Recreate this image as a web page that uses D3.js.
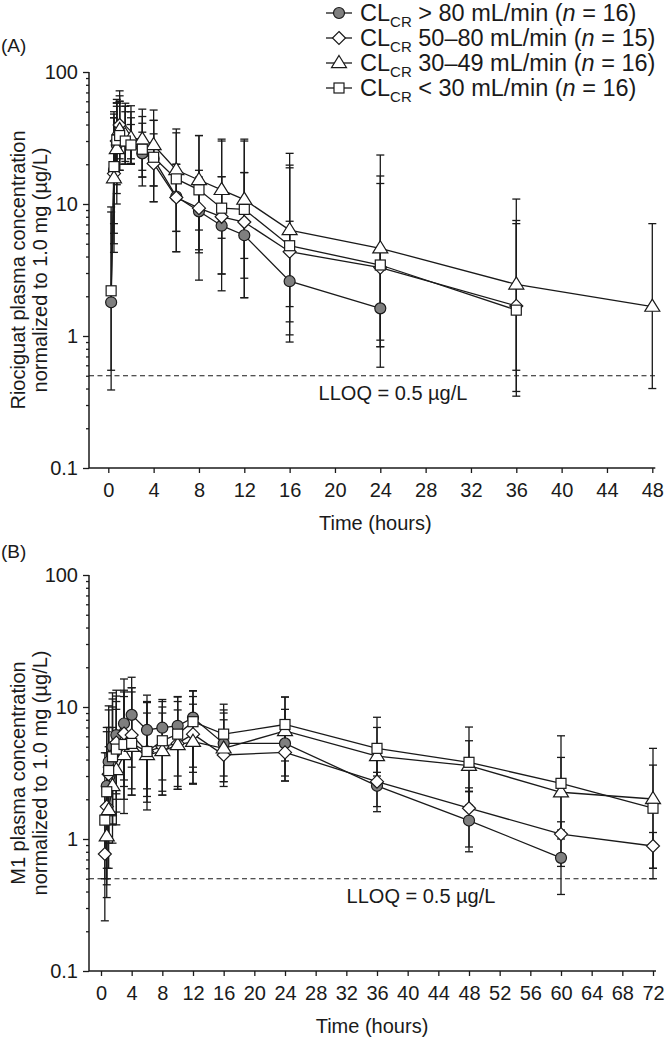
<!DOCTYPE html>
<html><head><meta charset="utf-8">
<script src="https://cdn.jsdelivr.net/npm/d3@7"></script>
<style>
html,body{margin:0;padding:0;background:#fff;}
svg text{font-family:"Liberation Sans",Arial,sans-serif;fill:#1a1a1a;}
</style></head>
<body><svg id="c" width="666" height="1043"></svg>
<script>
// ---------- Panel A: riociguat ----------
const aTimeCircle = [0.25,0.5,0.75,1,1.5,2,3,4,6,8,10,12,16,24];
const aCircle     = [1.8,18,28,32,30,28.8,24.2,22,11.4,8.8,6.85,5.8,2.6,1.62];
const aCircleHi   = [9.5,45,55,60,50,40,35,34,20,16,16.1,17.3,7.4,4.5];
const aCircleLo   = [0.39,6,14,18,20,20.3,16,13.7,6.2,4.5,2.95,1.95,0.9,0.58];

const aTimeDia = [0.5,0.75,1,1.5,2,3,4,6,8,10,12,16,24,36];
const aDia     = [17,30,39.7,35,30,26.7,20.3,11.2,9.3,8.0,7.3,4.35,3.3,1.69];
const aDiaHi   = [48,58.5,66,55,45,40.9,43,20,18,16.1,17.3,18.8,14.3,7.1];
const aDiaLo   = [5,12,22,20,20,13.7,10.4,4.35,4.27,2.95,1.95,1.02,0.83,0.38];

const aTimeTri = [0.5,0.75,1,1.5,2,3,4,6,8,10,12,16,24,36,48];
const aTri     = [15.7,26.1,36.4,33.3,31.6,30.9,28,18.1,15.2,12.8,10.8,6.35,4.62,2.46,1.67];
const aTriHi   = [45,62,72,58,55.5,52.3,51.5,37,33,31,31,24.2,23.5,10.9,7.1];
const aTriLo   = [4.3,10,20,21,22,16,13.7,6.2,6.35,5.5,3.87,1.67,0.93,0.55,0.4];

const aTimeSq = [0.25,0.5,0.75,1,1.5,2,3,4,6,8,10,12,16,24,36];
const aSq     = [2.2,19.2,30.5,33,30,28,26,22.6,15.5,12.8,9.3,9.1,4.83,3.45,1.57];
const aSqHi   = [8.7,50,58,60,55,50,46,43,34.6,33,30,30,19.7,16.3,7.5];
const aSqLo   = [0.55,7.1,15,18,20,20,18,10.4,4.35,2.65,2.2,2.74,1.28,0.83,0.35];

// ---------- Panel B: M1 ----------
const bTimeCircle = [0.75,1,1.5,2,3,4,6,8,10,12,16,24,36,48,60];
const bCircle     = [2.52,3.85,5.0,6.13,7.5,8.72,6.7,6.97,7.2,8.3,5.3,5.3,2.53,1.38,0.72];
const bCircleHi   = [7,10.2,12.8,13.4,16.3,16.8,12.3,11.4,12,13.2,9,9.6,3.2,2.3,1.0];
const bCircleLo   = [0.36,0.93,1.28,2.0,2.8,3.5,2.4,2.8,3.0,3.5,3.0,2.75,1.61,0.8,0.38];

const bTimeDia = [0.5,0.75,1,1.5,2,3,4,6,8,10,12,16,24,36,48,60,72];
const bDia     = [0.77,1.76,3.1,4.33,5.37,6.3,6.13,4.6,5.0,5.3,6.23,4.33,4.53,2.72,1.71,1.09,0.885];
const bDiaHi   = [2.5,4.5,7,10,11,13,14,9,9,9.5,10.5,8,8,4.2,2.44,1.35,1.12];
const bDiaLo   = [0.24,0.5,1.0,1.5,2.2,2.5,2.4,2.1,2.3,2.5,2.6,2.5,2.75,1.76,0.87,0.62,0.5];

const bTimeTri = [0.75,1,1.5,2,3,4,6,8,10,12,16,24,36,48,60,72];
const bTri     = [1.05,1.66,2.52,3.33,4.33,5.0,4.33,4.64,5.16,5.46,4.86,6.58,4.25,3.59,2.26,2.01];
const bTriHi   = [3.5,5,7,9.6,12,13,10.8,10,11,12,9.5,11.9,7,5.55,4.15,4.86];
const bTriLo   = [0.45,0.6,0.93,1.28,1.56,2.15,1.66,2.15,2.38,2.64,2.72,3.9,2.44,2.28,1.17,0.6];

const bTimeSq = [0.5,0.75,1,1.5,2,3,4,6,8,10,12,16,24,36,48,60,72];
const bSq     = [1.39,2.28,3.3,4.2,4.8,5.2,5.3,4.6,5.55,6.23,7.74,6.23,7.37,4.86,3.81,2.64,1.71];
const bSqHi   = [4.5,6.5,9.5,11.5,12.1,13.4,14,11,11,11.9,13.3,10.5,11.9,8.36,7.05,6.05,3.63];
const bSqLo   = [0.5,0.6,1.0,1.3,1.6,2.0,2.15,1.9,2.15,2.38,3.2,2.72,3.0,3.0,1.8,1.12,0.6];

const yMajorTicks = [0.1,1,10,100];
const yTickLabels = ["0.1","1","10","100"];
const xTicksA = d3.range(0,49,4);
const xTicksB = d3.range(0,73,4);
const legendLabels = [
  {pre:"CL",sub:"CR",post:" > 80 mL/min (",n:"n",end:" = 16)"},
  {pre:"CL",sub:"CR",post:" 50–80 mL/min (",n:"n",end:" = 15)"},
  {pre:"CL",sub:"CR",post:" 30–49 mL/min (",n:"n",end:" = 16)"},
  {pre:"CL",sub:"CR",post:" < 30 mL/min (",n:"n",end:" = 16)"}
];
const LLOQ = 0.5;

const INK = "#1a1a1a";
const svg = d3.select("#c");

function marker(g, type, x, y) {
  if (type === "circle") {
    g.append("circle").attr("cx",x).attr("cy",y).attr("r",5.5)
      .attr("fill","#7f7f7f").attr("stroke",INK).attr("stroke-width",1.2);
  } else if (type === "diamond") {
    const s = 6.5;
    g.append("path").attr("d",`M${x},${y-s}L${x+s},${y}L${x},${y+s}L${x-s},${y}Z`)
      .attr("fill","#fff").attr("stroke",INK).attr("stroke-width",1.2);
  } else if (type === "triangle") {
    const s = 7.5;
    g.append("path").attr("d",`M${x},${y-s}L${x+s},${y+s*0.62}L${x-s},${y+s*0.62}Z`)
      .attr("fill","#fff").attr("stroke",INK).attr("stroke-width",1.2);
  } else {
    const s = 5;
    g.append("rect").attr("x",x-s).attr("y",y-s).attr("width",2*s).attr("height",2*s)
      .attr("fill","#fff").attr("stroke",INK).attr("stroke-width",1.2);
  }
}

function panel(cfg) {
  const x = d3.scaleLinear().domain([0,cfg.xmax]).range([cfg.x0,cfg.x1]);
  const y = d3.scaleLog().domain([0.1,100]).range([cfg.yBottom,cfg.yTop]);
  const g = svg.append("g");

  // y axis
  const minor = [];
  [0.1,1,10].forEach(d => { for (let k=2;k<=9;k++) minor.push(d*k); });
  const yAxMinor = d3.axisLeft(y).tickValues(minor).tickSize(3).tickFormat("");
  const yAxMajor = d3.axisLeft(y).tickValues(yMajorTicks).tickSize(6)
      .tickFormat((d,i)=>yTickLabels[i]).tickPadding(5);
  const ga1 = g.append("g").attr("transform",`translate(${cfg.axisX},0)`).call(yAxMinor);
  const ga2 = g.append("g").attr("transform",`translate(${cfg.axisX},0)`).call(yAxMajor);
  [ga1,ga2].forEach(a=>{ a.select(".domain").remove();
    a.selectAll("line").attr("stroke",INK).attr("stroke-width",1.3);
    a.selectAll("text").style("font-size","20px").attr("fill",INK); });
  g.append("line").attr("x1",cfg.axisX).attr("x2",cfg.axisX)
    .attr("y1",cfg.yTop).attr("y2",cfg.yBottom).attr("stroke",INK).attr("stroke-width",1.5);

  // x axis
  const xAx = d3.axisBottom(x).tickValues(cfg.xticks).tickSize(5).tickPadding(10);
  const gx = g.append("g").attr("transform",`translate(0,${cfg.yBottom})`).call(xAx);
  gx.select(".domain").remove();
  gx.selectAll("line").attr("stroke",INK).attr("stroke-width",1.3);
  gx.selectAll("text").style("font-size","20px").attr("fill",INK);
  g.append("line").attr("x1",cfg.axisX).attr("x2",cfg.x1+3)
    .attr("y1",cfg.yBottom).attr("y2",cfg.yBottom).attr("stroke",INK).attr("stroke-width",1.5);

  // titles
  g.append("text").attr("x",(cfg.x0+cfg.x1)/2-5).attr("y",cfg.yBottom+62)
    .attr("text-anchor","middle").style("font-size","20px").text("Time (hours)");
  const cy = (cfg.yTop+cfg.yBottom)/2;
  g.append("text").attr("transform",`translate(25,${cy}) rotate(-90)`)
    .attr("text-anchor","middle").style("font-size","20px").text(cfg.title1);
  g.append("text").attr("transform",`translate(47,${cy}) rotate(-90)`)
    .attr("text-anchor","middle").style("font-size","20px").text(cfg.title2);
  g.append("text").attr("x",1).attr("y",cfg.labelY).style("font-size","19px").text(cfg.label);

  // LLOQ
  g.append("line").attr("x1",cfg.axisX).attr("x2",cfg.x1+3)
    .attr("y1",y(LLOQ)).attr("y2",y(LLOQ))
    .attr("stroke",INK).attr("stroke-width",1.2).attr("stroke-dasharray","5,3.5");
  g.append("text").attr("x",cfg.lloqX).attr("y",y(LLOQ)+24)
    .attr("text-anchor","middle").style("font-size","20px").text("LLOQ = 0.5 µg/L");

  // error bars
  const eb = g.append("g");
  cfg.series.forEach(s => {
    s.t.forEach((t,i) => {
      const xx = x(t);
      eb.append("line").attr("x1",xx).attr("x2",xx).attr("y1",y(s.lo[i])).attr("y2",y(s.hi[i]))
        .attr("stroke",INK).attr("stroke-width",1.3);
      [s.lo[i],s.hi[i]].forEach(v => eb.append("line").attr("x1",xx-4).attr("x2",xx+4)
        .attr("y1",y(v)).attr("y2",y(v)).attr("stroke",INK).attr("stroke-width",1.3));
    });
  });
  // lines
  const line = d3.line().x(d=>x(d[0])).y(d=>y(d[1]));
  cfg.series.forEach(s => {
    g.append("path").datum(s.t.map((t,i)=>[t,s.v[i]])).attr("d",line)
      .attr("fill","none").attr("stroke",INK).attr("stroke-width",1.3);
  });
  // markers
  cfg.series.forEach(s => {
    const mg = g.append("g");
    s.t.forEach((t,i)=>marker(mg, s.type, x(t), y(s.v[i])));
  });
}

panel({
  xmax:48, x0:108.3, x1:652.3, yTop:72, yBottom:468, axisX:89, xticks:xTicksA,
  title1:"Riociguat plasma concentration", title2:"normalized to 1.0 mg (µg/L)",
  label:"(A)", labelY:52, lloqX:393,
  series:[
    {type:"circle", t:aTimeCircle, v:aCircle, hi:aCircleHi, lo:aCircleLo},
    {type:"diamond", t:aTimeDia, v:aDia, hi:aDiaHi, lo:aDiaLo},
    {type:"triangle", t:aTimeTri, v:aTri, hi:aTriHi, lo:aTriLo},
    {type:"square", t:aTimeSq, v:aSq, hi:aSqHi, lo:aSqLo}
  ]
});
panel({
  xmax:72, x0:101, x1:653, yTop:575, yBottom:971, axisX:89, xticks:xTicksB,
  title1:"M1 plasma concentration", title2:"normalized to 1.0 mg (µg/L)",
  label:"(B)", labelY:558, lloqX:421,
  series:[
    {type:"circle", t:bTimeCircle, v:bCircle, hi:bCircleHi, lo:bCircleLo},
    {type:"diamond", t:bTimeDia, v:bDia, hi:bDiaHi, lo:bDiaLo},
    {type:"triangle", t:bTimeTri, v:bTri, hi:bTriHi, lo:bTriLo},
    {type:"square", t:bTimeSq, v:bSq, hi:bSqHi, lo:bSqLo}
  ]
});

// legend
const types = ["circle","diamond","triangle","square"];
const lg = svg.append("g");
legendLabels.forEach((L,i) => {
  const cy = 13 + i*25;
  lg.append("line").attr("x1",326).attr("x2",352).attr("y1",cy).attr("y2",cy)
    .attr("stroke",INK).attr("stroke-width",1.3);
  marker(lg, types[i], 339, cy);
  const t = lg.append("text").attr("x",360).attr("y",cy+8).style("font-size","23.5px");
  t.append("tspan").text(L.pre);
  t.append("tspan").attr("dy",6).style("font-size","15px").text(L.sub);
  t.append("tspan").attr("dy",-6).text(L.post);
  t.append("tspan").style("font-style","italic").text(L.n);
  t.append("tspan").text(L.end);
});
</script></body></html>
